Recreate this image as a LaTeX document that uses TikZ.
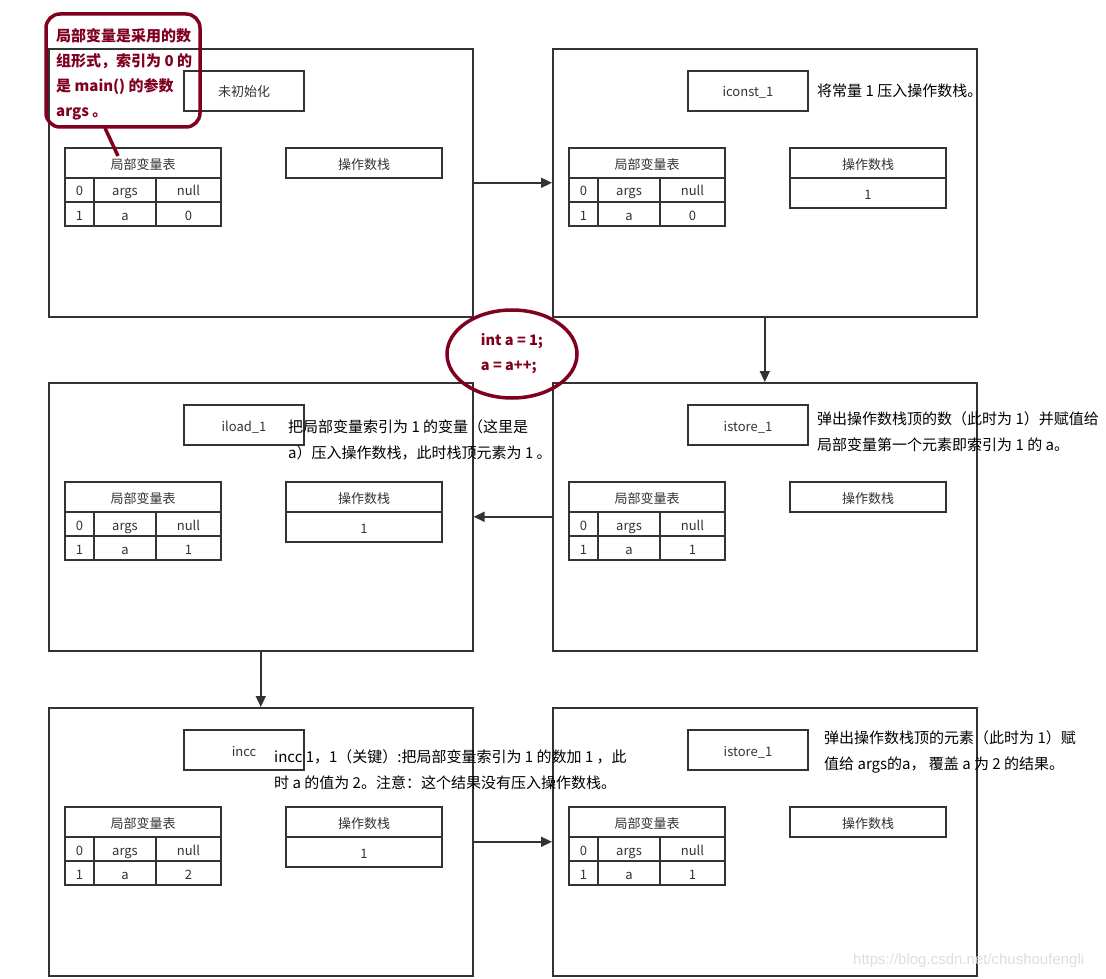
\documentclass[tikz,border=0pt]{standalone}
\usepackage{fontspec}
\setmainfont{Noto Sans CJK SC}
\newfontfamily\wmfont{Liberation Sans}
\usetikzlibrary{arrows.meta,shapes.geometric}
\definecolor{dred}{RGB}{128,0,32}
\definecolor{lc}{RGB}{51,51,51}
\newcommand\mkpanel[7]{%
  \begin{scope}[shift={(#2,#3)}]
    \node[frame] (#1) at (0,0) {};
    \node[ibox] (#1i) at (196,43) {#4};
    \node[hbox] (#1h) at (95,115) {局部变量表};
    \node[cell,minimum width=29pt] (#1a0) at (31.5,142) {0};
    \node[cell,minimum width=62pt] (#1b0) at (77,142) {args};
    \node[cell,minimum width=65pt] (#1c0) at (140.5,142) {null};
    \node[cell,minimum width=29pt] (#1a1) at (31.5,166) {1};
    \node[cell,minimum width=62pt] (#1b1) at (77,166) {a};
    \node[cell,minimum width=65pt] (#1c1) at (140.5,166) {#5};
    \node[hbox] (#1s) at (316,115) {操作数栈};
    \ifx\relax#6\relax\else\node[hbox] (#1v) at (316,145) {#6};\fi
    #7
  \end{scope}}
\begin{document}
\begin{tikzpicture}[x=1pt,y=-1pt,
  lbl/.style={font=\fontsize{13pt}{15pt}\selectfont,text=lc,text height=12.5pt,text depth=0.5pt},
  frame/.style={draw=lc,line width=1.6pt,minimum width=424pt,minimum height=268pt,inner sep=0pt,anchor=north west},
  ibox/.style={lbl,draw=lc,line width=1.6pt,minimum width=120pt,minimum height=40pt,inner sep=0pt},
  hbox/.style={lbl,draw=lc,line width=1.6pt,minimum width=156pt,minimum height=30pt,inner sep=0pt},
  cell/.style={lbl,draw=lc,line width=1.6pt,minimum height=24pt,inner sep=0pt},
  note/.style={anchor=west,inner sep=0pt,align=left,font=\fontsize{15pt}{26pt}\selectfont,text=black},
  arr/.style={draw=lc,line width=1.6pt,-{Triangle[length=11pt,width=10pt]}},
  red/.style={draw=dred,line width=3.5pt}]
\useasboundingbox (0,0) rectangle (1106,979);
\fill[white] (0,0) rectangle (1106,979);

\mkpanel{p1}{48}{48}{未初始化}{0}{}{}
\mkpanel{p2}{552}{48}{iconst\_1}{0}{1}{}
\mkpanel{p3}{552}{382}{istore\_1}{1}{}{}
\mkpanel{p4}{48}{382}{iload\_1}{1}{1}{}
\mkpanel{p5}{48}{707}{incc}{2}{1}{}
\mkpanel{p6}{552}{707}{istore\_1}{1}{}{}

\draw[arr] (p1) -- (p2);
\draw[arr] (p2) -- (p3);
\draw[arr] (p3) -- (p4);
\draw[arr] (p4) -- (p5);
\draw[arr] (p5) -- (p6);

\node[note] (n2) at (817,91) {将常量 1 压入操作数栈。};
\node[note] (n4) at (288,439.5) {把局部变量索引为 1 的变量（这里是\\a）压入操作数栈，此时栈顶元素为 1 。};
\node[note] (n3) at (817,432) {弹出操作数栈顶的数（此时为 1）并赋值给\\局部变量第一个元素即索引为 1 的 a。};
\node[note] (n5) at (274,770) {incc 1，1（关键）:把局部变量索引为 1 的数加 1 ，此\\时 a 的值为 2。注意：这个结果没有压入操作数栈。};
\node[note] (n6) at (824,752) {弹出操作数栈顶的元素（此时为 1）赋\\值给 args的a， 覆盖 a 为 2 的结果。};

\node[red,rounded corners=14pt,minimum width=154pt,minimum height=113pt,inner sep=0pt] (callout) at (123,70.5) {};
\node[anchor=west,inner sep=0pt,align=left,text=dred,font=\bfseries\fontsize{15pt}{25pt}\selectfont] (callt) at (56,74.5) {局部变量是采用的数\\组形式，索引为 0 的\\是 main() 的参数\\args 。};
\coordinate (tailA) at (105,128);
\coordinate (tailB) at (118,156);
\draw[red] (tailA) -- (tailB);

\node[red,ellipse,minimum width=130pt,minimum height=88pt,inner sep=0pt,align=left,text=dred,font=\bfseries\fontsize{14.5pt}{25pt}\selectfont] (code) at (512,354) {int a = 1;\\a = a++;};

\node[anchor=west,inner sep=0pt,text=black!13,font=\wmfont\fontsize{15pt}{15pt}\selectfont] (wm) at (853,961) {https://blog.csdn.net/chushoufengli};
\end{tikzpicture}
\end{document}
